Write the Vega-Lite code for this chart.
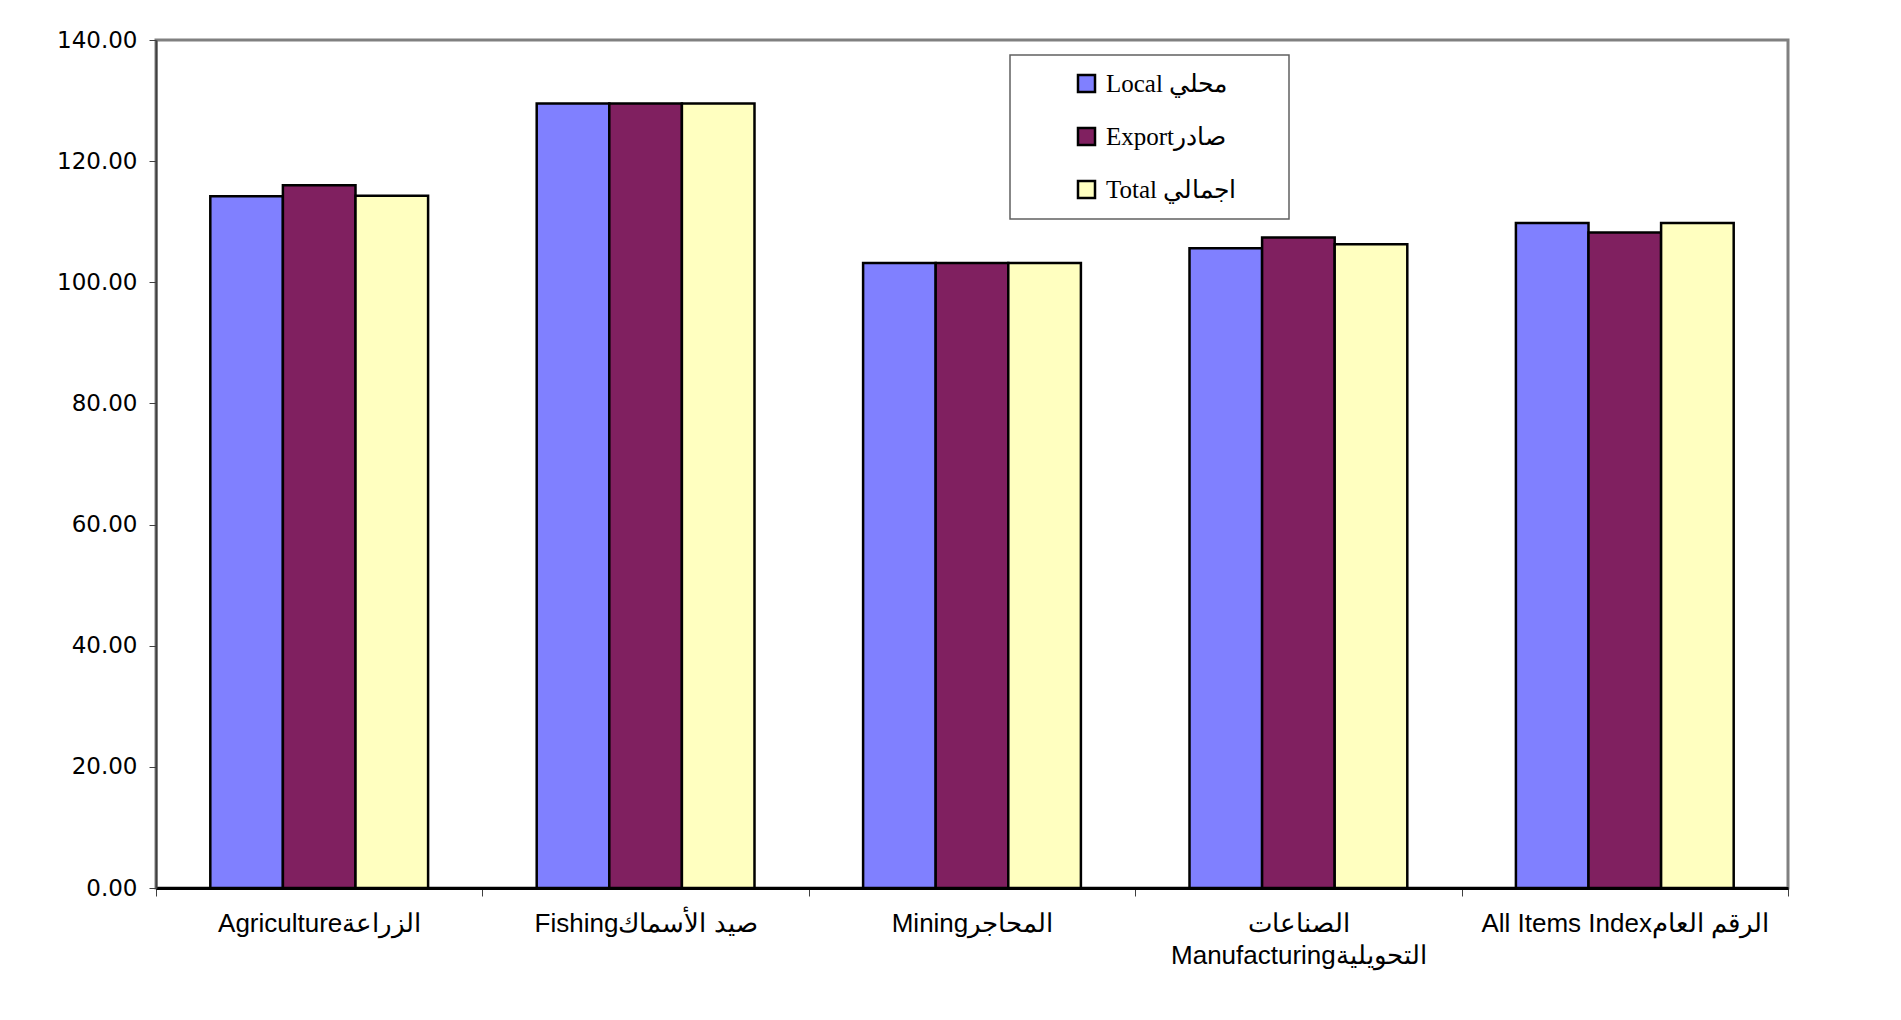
{
  "$schema": "https://vega.github.io/schema/vega-lite/v6.json",
  "width": 1632,
  "height": 848,
  "autosize": {"type": "none"},
  "padding": {"left": 156, "top": 40, "right": 113, "bottom": 132},
  "background": "white",
  "data": {
    "values": [
      {"sector": "Agricultureالزراعة", "series": "Local محلي", "value": 114.2},
      {"sector": "Agricultureالزراعة", "series": "Exportصادر", "value": 116.0},
      {"sector": "Agricultureالزراعة", "series": " Total اجمالي", "value": 114.3},
      {"sector": "Fishingصيد الأسماك", "series": "Local محلي", "value": 129.5},
      {"sector": "Fishingصيد الأسماك", "series": "Exportصادر", "value": 129.5},
      {"sector": "Fishingصيد الأسماك", "series": " Total اجمالي", "value": 129.5},
      {"sector": "Miningالمحاجر", "series": "Local محلي", "value": 103.2},
      {"sector": "Miningالمحاجر", "series": "Exportصادر", "value": 103.2},
      {"sector": "Miningالمحاجر", "series": " Total اجمالي", "value": 103.2},
      {"sector": "الصناعات\nManufacturingالتحويلية", "series": "Local محلي", "value": 105.6},
      {"sector": "الصناعات\nManufacturingالتحويلية", "series": "Exportصادر", "value": 107.4},
      {"sector": "الصناعات\nManufacturingالتحويلية", "series": " Total اجمالي", "value": 106.3},
      {"sector": "All Items Indexالرقم العام", "series": "Local محلي", "value": 109.8},
      {"sector": "All Items Indexالرقم العام", "series": "Exportصادر", "value": 108.2},
      {"sector": "All Items Indexالرقم العام", "series": " Total اجمالي", "value": 109.8}
    ]
  },
  "mark": {"type": "bar", "stroke": "black", "strokeWidth": 2.5},
  "encoding": {
    "x": {
      "field": "sector",
      "type": "nominal",
      "sort": null,
      "scale": {"paddingInner": 0, "paddingOuter": 0},
      "axis": {
        "title": null,
        "labelAngle": 0,
        "ticks": true,
        "tickBand": "extent",
        "tickSize": 8,
        "tickColor": "#404040",
        "domainColor": "black",
        "domainWidth": 3,
        "labelFont": "Liberation Sans",
        "labelFontSize": 26,
        "labelColor": "black",
        "labelPadding": 14,
        "labelLineHeight": 32,
        "labelLimit": 400,
        "labelExpr": "split(datum.label, '\\n')"
      }
    },
    "xOffset": {
      "field": "series",
      "type": "nominal",
      "sort": ["Local محلي", "Exportصادر", " Total اجمالي"],
      "scale": {"paddingInner": 0, "paddingOuter": 0.748}
    },
    "y": {
      "field": "value",
      "type": "quantitative",
      "scale": {"domain": [0, 140], "nice": false},
      "axis": {
        "title": null,
        "values": [0, 20, 40, 60, 80, 100, 120, 140],
        "format": ".2f",
        "grid": false,
        "tickSize": 7,
        "tickColor": "#404040",
        "domainColor": "#404040",
        "domainWidth": 2,
        "labelFont": "DejaVu Sans",
        "labelFontSize": 23,
        "labelColor": "black",
        "labelPadding": 12
      }
    },
    "color": {
      "field": "series",
      "type": "nominal",
      "scale": {
        "domain": ["Local محلي", "Exportصادر", " Total اجمالي"],
        "range": ["#8080FF", "#802060", "#FFFFC0"]
      },
      "legend": {
        "orient": "none",
        "legendX": 854,
        "legendY": 15,
        "title": "\u00a0",
        "titleOrient": "left",
        "titleFontSize": 1,
        "titlePadding": 48,
        "padding": 16,
        "strokeColor": "#606060",
        "fillColor": "white",
        "symbolType": "square",
        "symbolSize": 289,
        "symbolStrokeColor": "black",
        "symbolStrokeWidth": 2.5,
        "symbolOpacity": 1,
        "labelFont": "Liberation Serif",
        "labelFontSize": 25,
        "labelColor": "black",
        "labelOffset": 7,
        "labelLimit": 400,
        "rowPadding": 26,
        "labelExpr": "datum.label + '\u2800\u2800'",
        "encode": {"legend": {"update": {"strokeWidth": {"value": 1.5}}}}
      }
    }
  },
  "config": {"view": {"stroke": "#808080", "strokeWidth": 3}}
}
